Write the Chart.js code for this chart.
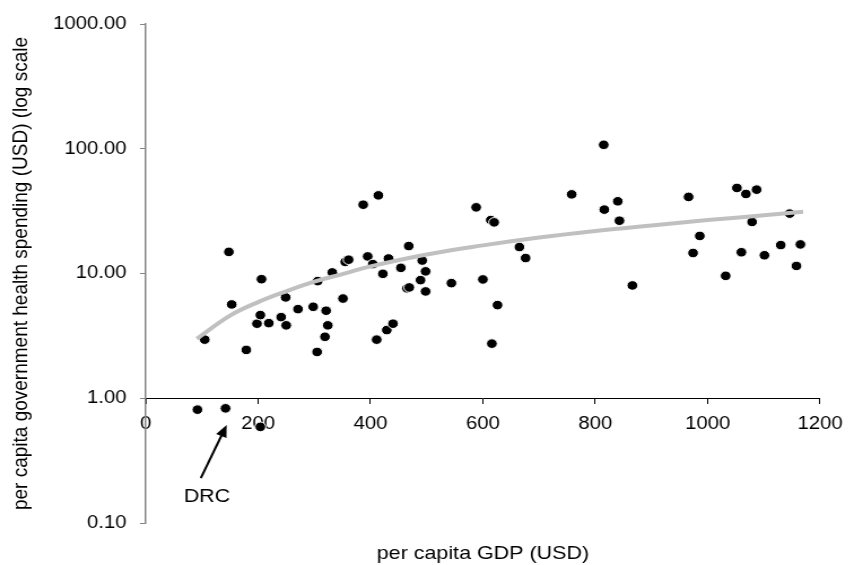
<!DOCTYPE html>
<html>
<head>
<meta charset="utf-8">
<script src="https://cdn.jsdelivr.net/npm/chart.js@4.4.1/dist/chart.umd.min.js"></script>
<style>
  html, body { margin: 0; padding: 0; background: #fff; }
  /* the chart is drawn narrow and stretched sideways */
  #chart { display: block; transform: scaleX(1.1296); transform-origin: 0 0; }
</style>
</head>
<body>
<canvas id="chart" width="756" height="565"></canvas>
<script>
// per capita GDP (USD) and government health spending (USD) per country
const gdp = [92, 142, 204, 105, 148, 153, 179, 198, 204, 206, 219, 241, 249, 250, 271, 298,
    305, 306, 319, 321, 324, 332, 351, 355, 361, 387, 395, 404, 411, 414, 422, 429, 432,
    440, 454, 465, 469, 468, 489, 492, 498, 498, 544, 588, 600, 614, 616, 620, 626, 665,
    676, 758, 815, 816, 840, 843, 866, 966, 974, 986, 1032, 1052, 1060, 1068, 1079, 1087,
    1101, 1130, 1146, 1158, 1165];
const spending = [0.81, 0.83, 0.59, 2.95, 14.9, 5.65, 2.44, 3.96, 4.64, 9.0, 4.0, 4.47, 6.43,
    3.84, 5.18, 5.41, 2.35, 8.69, 3.11, 5.03, 3.84, 10.2, 6.3, 12.4, 12.9, 35.6, 13.7, 11.9,
    2.95, 42.3, 9.94, 3.52, 13.2, 3.96, 11.1, 7.6, 7.73, 16.6, 8.85, 12.7, 10.4, 7.18, 8.37,
    33.9, 8.96, 26.8, 2.74, 25.7, 5.58, 16.3, 13.3, 43.1, 107.6, 32.5, 37.9, 26.5, 8.02, 41.1,
    14.6, 20.0, 9.58, 48.5, 14.8, 43.4, 25.9, 47.0, 14.0, 16.9, 30.2, 11.5, 17.1];

// fitted trend line
const trendGdp = [91, 150, 200, 250, 300, 350, 400, 500, 600, 700, 800, 900, 1000, 1100, 1170];
const trendSpending = [3.0, 4.6, 5.9, 7.2, 8.6, 9.9, 11.4, 14.2, 16.8, 19.4, 21.9, 24.3, 26.8, 29.3, 31.2];

const yTicks = [0.1, 1, 10, 100, 1000];

// DRC callout: label position, arrow tail and arrow tip (data units)
const drcLabel = [109, 0.161];
const drcArrowFrom = [98, 0.229];
const drcArrowTo = [144, 0.611];

const FONT = 'Arial, "Liberation Sans", Helvetica, sans-serif';

const points = gdp.map((g, i) => ({ x: g, y: spending[i] }));
const trend = trendGdp.map((g, i) => ({ x: g, y: trendSpending[i] }));

const drcCallout = {
    id: 'drcCallout',
    afterDatasetsDraw(chart) {
        const { ctx } = chart;
        const sx = chart.scales.x, sy = chart.scales.y;
        const x1 = sx.getPixelForValue(drcArrowFrom[0]), y1 = sy.getPixelForValue(drcArrowFrom[1]);
        const x2 = sx.getPixelForValue(drcArrowTo[0]), y2 = sy.getPixelForValue(drcArrowTo[1]);
        const ang = Math.atan2(y2 - y1, x2 - x1);
        const head = 12, half = 5;
        ctx.save();
        ctx.strokeStyle = '#000';
        ctx.fillStyle = '#000';
        ctx.lineWidth = 2;
        ctx.beginPath();
        ctx.moveTo(x1, y1);
        ctx.lineTo(x2 - head * Math.cos(ang) * 0.8, y2 - head * Math.sin(ang) * 0.8);
        ctx.stroke();
        ctx.beginPath();
        ctx.moveTo(x2, y2);
        ctx.lineTo(x2 - head * Math.cos(ang) + half * Math.sin(ang), y2 - head * Math.sin(ang) - half * Math.cos(ang));
        ctx.lineTo(x2 - head * Math.cos(ang) - half * Math.sin(ang), y2 - head * Math.sin(ang) + half * Math.cos(ang));
        ctx.closePath();
        ctx.fill();
        ctx.font = '19px ' + FONT;
        ctx.textAlign = 'center';
        ctx.textBaseline = 'middle';
        ctx.fillText('DRC', sx.getPixelForValue(drcLabel[0]), sy.getPixelForValue(drcLabel[1]));
        ctx.restore();
    }
};

new Chart(document.getElementById('chart'), {
    type: 'scatter',
    data: {
        datasets: [
            {
                type: 'line',
                data: trend,
                borderColor: '#c0c0c0',
                borderWidth: 4,
                pointRadius: 0,
                tension: 0.4,
                fill: false,
                order: 0
            },
            {
                type: 'scatter',
                data: points,
                backgroundColor: '#000',
                borderColor: '#fff',
                borderWidth: 1,
                pointRadius: 4.8,
                order: 1
            }
        ]
    },
    options: {
        responsive: false,
        animation: false,
        layout: { padding: { top: 24, right: 25, bottom: 0, left: 0 } },
        plugins: {
            legend: { display: false },
            tooltip: { enabled: false }
        },
        scales: {
            x: {
                type: 'linear',
                min: 0,
                max: 1200,
                position: { y: 1 },
                ticks: {
                    stepSize: 200,
                    color: '#000',
                    padding: 10,
                    maxRotation: 0,
                    font: { family: FONT, size: 18 },
                    callback: v => String(v)
                },
                grid: { drawOnChartArea: false, drawTicks: true, tickLength: 5, color: '#000' },
                border: { color: '#000', width: 1 }
            },
            xTitle: {
                type: 'linear',
                axis: 'x',
                position: 'bottom',
                min: 0,
                max: 1200,
                ticks: { display: false },
                grid: { display: false },
                border: { display: false },
                title: {
                    display: true,
                    text: 'per capita GDP (USD)',
                    color: '#000',
                    padding: { top: 0, bottom: 0 },
                    font: { family: FONT, size: 19 }
                },
                afterFit: s => { s.height = 42; }
            },
            y: {
                type: 'logarithmic',
                position: 'left',
                min: 0.1,
                max: 1000,
                afterBuildTicks: s => { s.ticks = yTicks.map(v => ({ value: v })); },
                afterFit: s => { s.width = 129; },
                ticks: {
                    color: '#000',
                    padding: 12,
                    font: { family: FONT, size: 18 },
                    callback: v => Number(v).toFixed(2)
                },
                grid: { drawOnChartArea: false, drawTicks: true, tickLength: 5, color: '#868686' },
                border: { color: '#868686', width: 1.5 },
                title: {
                    display: true,
                    text: 'per capita government health spending (USD) (log scale',
                    color: '#000',
                    padding: { top: 7, bottom: 0 },
                    font: { family: FONT, size: 19 }
                }
            }
        }
    },
    plugins: [drcCallout]
});
</script>
</body>
</html>
